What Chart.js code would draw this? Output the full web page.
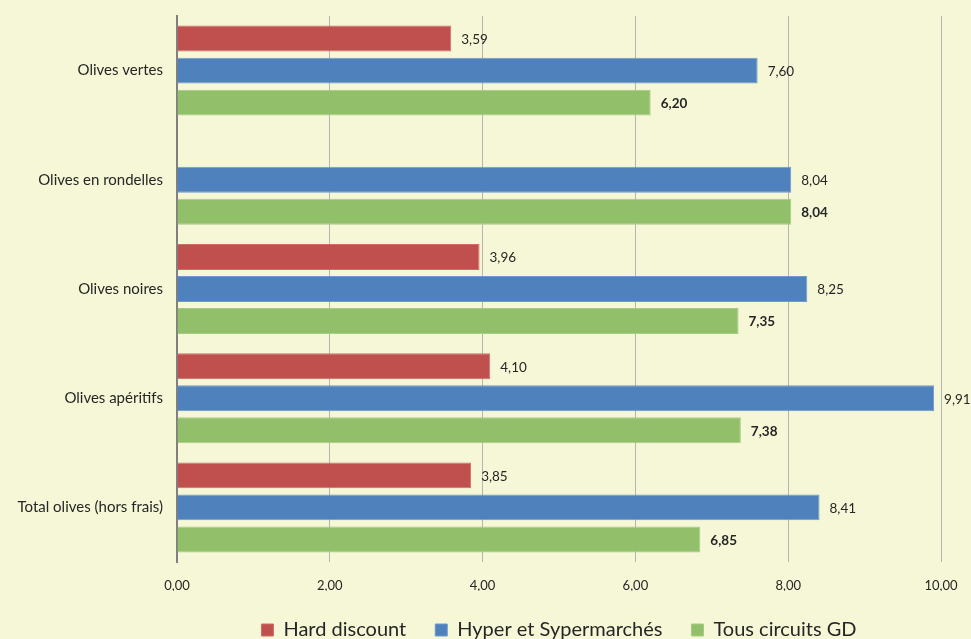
<!DOCTYPE html>
<html>
<head>
<meta charset="utf-8">
<script src="https://cdn.jsdelivr.net/npm/chart.js@4/dist/chart.umd.min.js"></script>
<style>
  html, body { margin: 0; padding: 0; background: #F6F7D6; }
  #wrap { width: 971px; height: 639px; }
</style>
</head>
<body>
<div id="wrap"><canvas id="c" width="971" height="639"></canvas></div>
<script>
const categories = ["Olives vertes", "Olives en rondelles", "Olives noires", "Olives apéritifs", "Total olives (hors frais)"];
const hardDiscount = [3.59, null, 3.96, 4.10, 3.85];
const hyperSuper = [7.60, 8.04, 8.25, 9.91, 8.41];
const tousCircuits = [6.20, 8.04, 7.35, 7.38, 6.85];
const xTicks = [0, 2, 4, 6, 8, 10];

const FONT = "Lato, 'Open Sans', sans-serif";
const fmt = v => v.toFixed(2).replace('.', ',');

// Writes each bar's value just past its end; the last series is bold.
const valueLabels = {
  id: 'valueLabels',
  afterDatasetsDraw(chart) {
    const ctx = chart.ctx;
    ctx.save();
    ctx.textBaseline = 'middle';
    ctx.textAlign = 'left';
    ctx.fillStyle = '#262626';
    chart.data.datasets.forEach((ds, i) => {
      const meta = chart.getDatasetMeta(i);
      ctx.font = (i === 2 ? 'bold ' : '') + '13.5px ' + FONT;
      meta.data.forEach((bar, j) => {
        const v = ds.data[j];
        if (v === null || v === undefined) return;
        ctx.fillText(fmt(v), bar.x + 10, bar.y + 1);
      });
    });
    ctx.restore();
  }
};

new Chart(document.getElementById('c'), {
  type: 'bar',
  data: {
    labels: categories,
    datasets: [
      { label: 'Hard discount', data: hardDiscount, backgroundColor: '#C0504D', borderColor: '#CB6E6B', borderWidth: 1, borderSkipped: 'start' },
      { label: 'Hyper et Sypermarchés', data: hyperSuper, backgroundColor: '#4F81BD', borderColor: '#7099CB', borderWidth: 1, borderSkipped: 'start' },
      { label: 'Tous circuits GD', data: tousCircuits, backgroundColor: '#92BF6A', borderColor: '#A6CB85', borderWidth: 1, borderSkipped: 'start' }
    ]
  },
  options: {
    indexAxis: 'y',
    responsive: false,
    animation: false,
    layout: { padding: { left: 0, right: 30, top: 16, bottom: -11 } },
    datasets: { bar: { categoryPercentage: 0.88, barPercentage: 0.81 } },
    scales: {
      x: {
        min: 0, max: 10,
        afterBuildTicks: s => { s.ticks = xTicks.map(v => ({ value: v })); },
        afterFit: s => { s.height = 29; s.paddingLeft = 0; s.paddingRight = 0; },
        grid: { color: '#B4B4B4', lineWidth: 1, drawTicks: false },
        border: { display: false },
        ticks: { color: '#262626', font: { family: FONT, size: 13 }, padding: 16, callback: v => fmt(v) }
      },
      y: {
        afterFit: s => { s.width = 177; s.paddingTop = 0; s.paddingBottom = 0; },
        grid: { display: false, drawTicks: false },
        border: { display: true, color: '#808080', width: 2 },
        ticks: { color: '#262626', font: { family: FONT, size: 15 }, padding: 14 }
      }
    },
    plugins: {
      legend: {
        position: 'bottom',
        fullSize: false,
        labels: {
          color: '#262626',
          font: { family: FONT, size: 20 },
          boxWidth: 12, boxHeight: 12, padding: 29
        }
      },
      tooltip: { enabled: false }
    }
  },
  plugins: [valueLabels]
});
</script>
</body>
</html>
